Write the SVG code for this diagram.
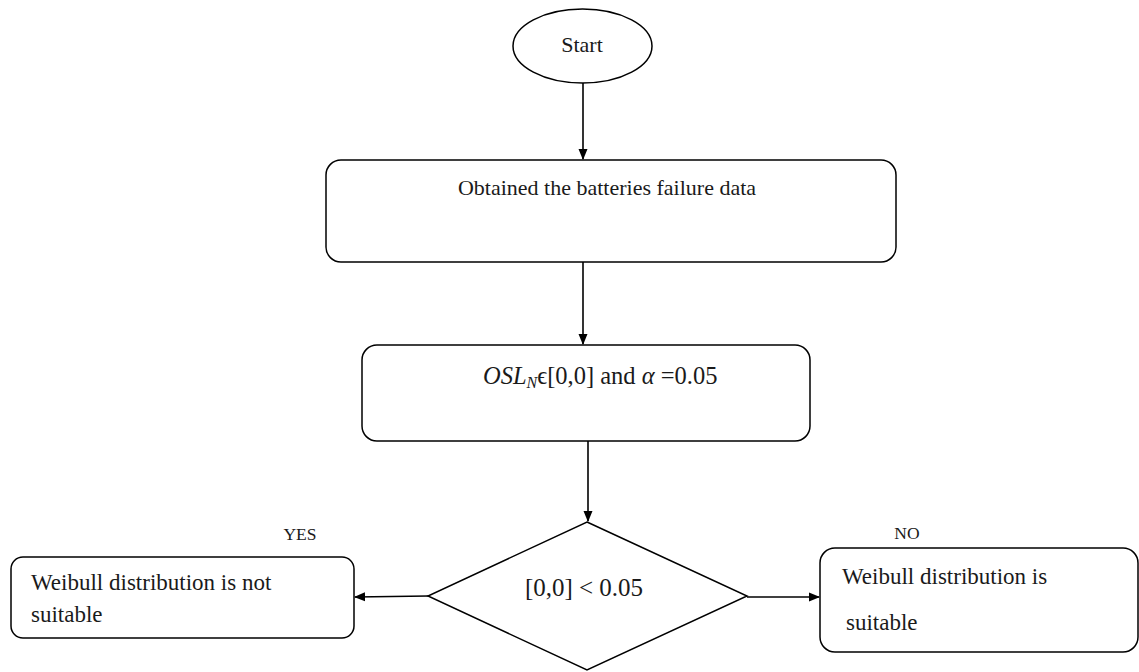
<svg xmlns="http://www.w3.org/2000/svg" width="1139" height="672" viewBox="0 0 1139 672">
<style>
.shape{fill:#fff;stroke:#000;stroke-width:1.5}
.conn{stroke:#000;stroke-width:1.6;fill:none}
text{font-family:"Liberation Serif","DejaVu Serif",serif;fill:#1a1a1a}
.t16{font-size:22px}
.t18{font-size:23px}
.lab{font-size:17.5px}
</style>
<defs>
<marker id="arr" markerWidth="11" markerHeight="10" refX="10" refY="5" orient="auto" markerUnits="userSpaceOnUse">
<path d="M0,0.5 L11,5 L0,9.5 Z" fill="#000"/>
</marker>
</defs>
<rect width="1139" height="672" fill="#fff"/>
<g id="connectors">
<line class="conn" x1="583" y1="83" x2="583" y2="159" marker-end="url(#arr)"/>
<line class="conn" x1="583" y1="262" x2="583" y2="344" marker-end="url(#arr)"/>
<line class="conn" x1="588" y1="441" x2="588" y2="521" marker-end="url(#arr)"/>
<line class="conn" x1="428" y1="596" x2="355" y2="597" marker-end="url(#arr)"/>
<line class="conn" x1="747" y1="597" x2="819" y2="597" marker-end="url(#arr)"/>
</g>
<g id="start">
<ellipse class="shape" cx="582.5" cy="46" rx="69.5" ry="37"/>
<text class="t16" x="582" y="52" text-anchor="middle">Start</text>
</g>
<g id="obtain">
<rect class="shape" x="326" y="160" width="570" height="102" rx="15"/>
<text class="t16" x="607" y="195" text-anchor="middle">Obtained the batteries failure data</text>
</g>
<g id="osl">
<rect class="shape" x="362" y="345" width="448" height="96" rx="15"/>
<text x="483" y="384" font-size="24.5"><tspan font-style="italic">OSL</tspan><tspan font-style="italic" font-size="16" dy="4">N</tspan><tspan dy="-4">ϵ[0,0] and </tspan><tspan font-style="italic">α</tspan><tspan> =0.05</tspan></text>
</g>
<g id="decision">
<polygon class="shape" points="587,522 747,596 587,670 428,596"/>
<text x="584" y="596" font-size="25" text-anchor="middle">[0,0] &lt; 0.05</text>
</g>
<g id="notsuitable">
<rect class="shape" x="11" y="557" width="343" height="81" rx="12"/>
<text class="t18" x="31" y="590">Weibull distribution is not</text>
<text class="t18" x="31" y="622">suitable</text>
</g>
<g id="suitable">
<rect class="shape" x="820" y="548" width="318" height="104" rx="15"/>
<text class="t18" x="842" y="584">Weibull distribution is</text>
<text class="t18" x="846" y="630">suitable</text>
</g>
<g id="labels">
<text class="lab" x="300" y="540" text-anchor="middle">YES</text>
<text class="lab" x="907" y="539" text-anchor="middle">NO</text>
</g>
</svg>
